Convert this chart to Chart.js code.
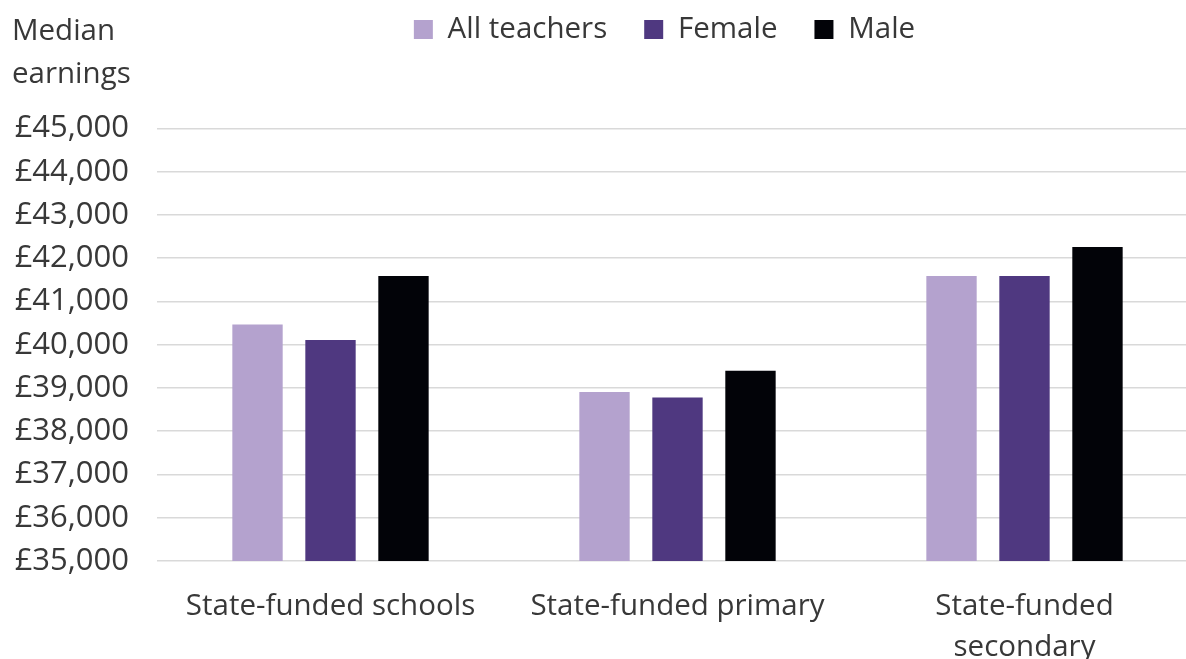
<!DOCTYPE html>
<html lang="en">
<head>
<meta charset="utf-8">
<title>Median teacher earnings by school phase and sex</title>
<script src="https://cdn.jsdelivr.net/npm/chart.js@4.4.1/dist/chart.umd.min.js"></script>
<style>
  html, body { margin: 0; padding: 0; background: #ffffff; overflow: hidden; }
  #wrap { position: relative; width: 1198px; height: 659px; }
</style>
</head>
<body>
<div id="wrap"><canvas id="chart"></canvas></div>
<script>
// Categories along the x axis (the last one wraps onto two lines)
const categories = ['State-funded schools', 'State-funded primary', ['State-funded', 'secondary']];
// Series names
const seriesNames = ['All teachers', 'Female', 'Male'];
// Median earnings (£) per category
const allTeachers = [40470, 38910, 41590];
const female      = [40110, 38780, 41590];
const male        = [41590, 39400, 42260];
// Value axis range
const yMin = 35000;
const yMax = 45000;
const yStep = 1000;
// Caption above the value axis
const axisCaptionLines = ['Median', 'earnings'];

const TEXT = '#383838';
const FONT = '"Open Sans", "Noto Sans", sans-serif';

Chart.defaults.font.family = FONT;
Chart.defaults.color = TEXT;

// Draws the two-line caption above the value axis labels
const axisCaption = {
  id: 'axisCaption',
  afterDraw(chart, args, opts) {
    const { ctx } = chart;
    const yScale = chart.scales.y;
    ctx.save();
    ctx.font = opts.size + 'px ' + FONT;
    ctx.fillStyle = TEXT;
    ctx.textAlign = 'left';
    ctx.textBaseline = 'alphabetic';
    opts.lines.forEach((line, i) => {
      ctx.fillText(line, yScale.left + opts.x, opts.y + i * opts.lineGap);
    });
    ctx.restore();
  }
};

// Reserves room between the legend and the plot and nudges the legend sideways
const legendFrame = {
  id: 'legendFrame',
  afterInit(chart, args, opts) {
    const legend = chart.legend;
    if (!legend) return;
    const baseFit = legend.fit;
    legend.fit = function () {
      baseFit.call(this);
      this.height = opts.height;
    };
  },
  afterLayout(chart, args, opts) {
    const legend = chart.legend;
    if (!legend) return;
    legend.left += opts.shift;
    legend.right += opts.shift;
  }
};

new Chart(document.getElementById('chart'), {
  type: 'bar',
  data: {
    labels: categories,
    datasets: [
      { label: seriesNames[0], data: allTeachers, backgroundColor: '#b4a2ce' },
      { label: seriesNames[1], data: female,      backgroundColor: '#4f3880' },
      { label: seriesNames[2], data: male,        backgroundColor: '#020308' }
    ]
  },
  options: {
    responsive: true,
    maintainAspectRatio: false,
    animation: false,
    layout: { padding: { top: -22.25, left: 0, right: 0, bottom: 0 } },
    datasets: {
      bar: { categoryPercentage: 0.631, barPercentage: 0.69 }
    },
    scales: {
      x: {
        grid: { display: false },
        border: { display: false },
        ticks: {
          color: TEXT,
          font: { size: 29.5, lineHeight: 1.39 },
          padding: 17,
          maxRotation: 0,
          autoSkip: false
        },
        afterFit(scale) { scale.height = 98; }
      },
      y: {
        min: yMin,
        max: yMax,
        border: { display: false },
        grid: { color: '#d9d9d9', lineWidth: 1.6, drawTicks: false },
        ticks: {
          stepSize: yStep,
          color: TEXT,
          font: { size: 31 },
          padding: 28,
          callback: (v) => '£' + Number(v).toLocaleString('en-GB')
        },
        afterFit(scale) { scale.width = 157; }
      }
    },
    plugins: {
      legend: {
        position: 'top',
        fullSize: false,
        labels: {
          boxWidth: 19,
          boxHeight: 19,
          padding: 37,
          color: TEXT,
          font: { size: 29.5 }
        }
      },
      tooltip: { enabled: false },
      legendFrame: { height: 150.75, shift: -13 },
      axisCaption: { lines: axisCaptionLines, size: 29.5, x: 12, y: 40, lineGap: 43 }
    }
  },
  plugins: [legendFrame, axisCaption]
});
</script>
</body>
</html>
